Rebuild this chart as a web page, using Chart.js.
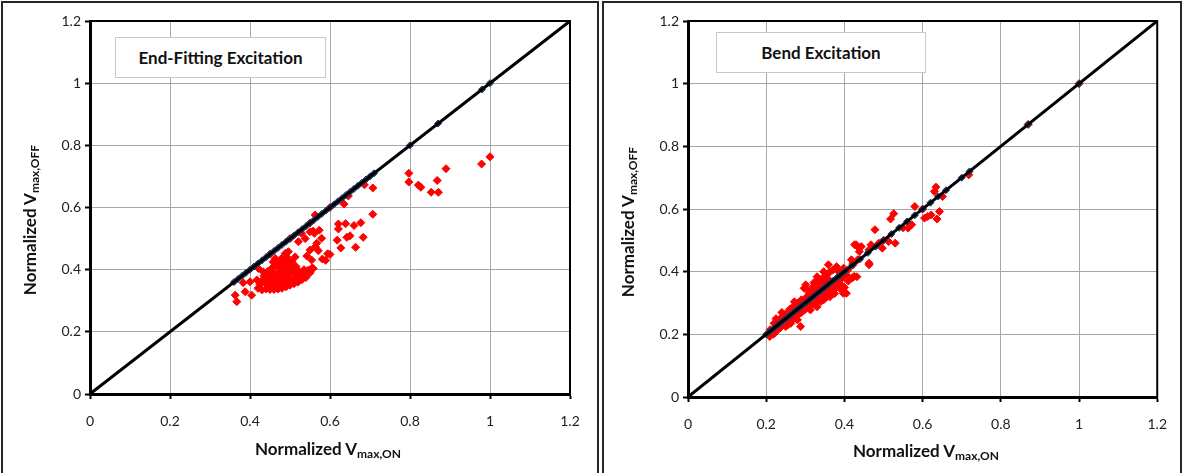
<!DOCTYPE html>
<html>
<head>
<meta charset="utf-8">
<script src="https://cdn.jsdelivr.net/npm/chart.js@4"></script>
<style>
body { margin: 0; width: 1183px; height: 473px; overflow: hidden; background: #fff; font-family: Lato, "Noto Sans", sans-serif; }
.frame { position: absolute; border: 2px solid #262626; box-sizing: border-box; }
.wrap { position: absolute; }
.box { position: absolute; border: 1px solid #c8c8c8; background: #fff; font-weight: bold; font-size: 17px; text-align: center; color: #111; box-sizing: border-box; }
.xt { position: absolute; width: 260px; font-weight: bold; font-size: 17px; text-align: center; color: #111; }
.yt { position: absolute; width: 260px; height: 24px; line-height: 24px; font-weight: bold; font-size: 17px; text-align: center; color: #111; transform: rotate(-90deg); }
sub { font-size: 12px; vertical-align: -3px; }
</style>
</head>
<body>
<div class="frame" style="left:1px;top:1px;width:598px;height:490px;"></div>
<div class="frame" style="left:602px;top:1px;width:580px;height:490px;"></div>

<div class="wrap" style="left:3px;top:3px;width:594px;height:470px;"><canvas id="endChart"></canvas></div>
<div class="wrap" style="left:604px;top:3px;width:577px;height:470px;"><canvas id="bendChart"></canvas></div>

<div class="box" style="left:115px;top:37px;width:211px;height:41px;line-height:39px;">End-Fitting Excitation</div>
<div class="box" style="left:716px;top:32px;width:210px;height:41px;line-height:39px;">Bend Excitation</div>

<div class="xt" style="left:198px;top:438px;">Normalized V<sub>max,ON</sub></div>
<div class="xt" style="left:796px;top:440px;">Normalized V<sub>max,ON</sub></div>
<div class="yt" style="left:-100px;top:208px;">Normalized V<sub>max,OFF</sub></div>
<div class="yt" style="left:498px;top:210px;">Normalized V<sub>max,OFF</sub></div>

<script>
// axis ticks shared by both panels
const tickVals = [0, 0.2, 0.4, 0.6, 0.8, 1, 1.2];
const lineX = [0, 1.2];

// End-fitting excitation: red points (ON, OFF)
const endOn = [
    1.0, 0.979, 0.89, 0.868, 0.871, 0.853, 0.827, 0.821, 0.797, 0.797,
    0.707, 0.686, 0.635, 0.646, 0.707, 0.677, 0.66, 0.639, 0.621, 0.621,
    0.683, 0.65, 0.642, 0.618, 0.664, 0.627, 0.6, 0.594, 0.589, 0.581,
    0.563, 0.573, 0.579, 0.567, 0.561, 0.55, 0.558, 0.571, 0.563, 0.55,
    0.542, 0.554, 0.529, 0.521, 0.538, 0.513, 0.5, 0.488, 0.496, 0.479,
    0.363, 0.367, 0.388, 0.404, 0.383, 0.4, 0.421, 0.463,
    0.417, 0.42, 0.425, 0.43, 0.43, 0.435, 0.44, 0.44, 0.44, 0.445,
    0.45, 0.45, 0.45, 0.45, 0.455, 0.46, 0.46, 0.46, 0.46, 0.46,
    0.465, 0.47, 0.47, 0.47, 0.47, 0.47, 0.475, 0.48, 0.48, 0.48,
    0.48, 0.48, 0.485, 0.49, 0.49, 0.49, 0.49, 0.495, 0.5, 0.5,
    0.5, 0.5, 0.505, 0.51, 0.51, 0.51, 0.515, 0.52, 0.52, 0.52,
    0.525, 0.53, 0.53, 0.535, 0.54, 0.54, 0.545, 0.55, 0.555, 0.558,
    0.433, 0.458, 0.492, 0.5, 0.55, 0.6, 0.45
];
const endOff = [
    0.763, 0.74, 0.725, 0.687, 0.649, 0.649, 0.665, 0.672, 0.71, 0.682,
    0.663, 0.673, 0.611, 0.637, 0.578, 0.551, 0.542, 0.548, 0.547, 0.531,
    0.504, 0.509, 0.504, 0.495, 0.472, 0.47, 0.449, 0.451, 0.43, 0.434,
    0.576, 0.527, 0.501, 0.485, 0.517, 0.522, 0.524, 0.461, 0.474, 0.463,
    0.444, 0.431, 0.517, 0.49, 0.5, 0.441, 0.425, 0.452, 0.458, 0.436,
    0.318, 0.297, 0.329, 0.318, 0.358, 0.361, 0.404, 0.436,
    0.367, 0.34, 0.352, 0.335, 0.365, 0.38, 0.338, 0.355, 0.372, 0.395,
    0.336, 0.35, 0.368, 0.385, 0.405, 0.336, 0.352, 0.37, 0.388, 0.41,
    0.42, 0.338, 0.355, 0.372, 0.39, 0.408, 0.425, 0.34, 0.358, 0.375,
    0.395, 0.415, 0.43, 0.345, 0.362, 0.38, 0.4, 0.42, 0.35, 0.368,
    0.388, 0.405, 0.425, 0.355, 0.372, 0.392, 0.41, 0.36, 0.378, 0.398,
    0.388, 0.368, 0.385, 0.4, 0.375, 0.392, 0.398, 0.39, 0.405, 0.404,
    0.393, 0.425, 0.441, 0.5, 0.55, 0.6, 0.45
];
// End-fitting: points lying on the diagonal (ON = OFF)
const endDiag = [
    0.36, 0.37, 0.38, 0.39, 0.4, 0.41, 0.42, 0.43, 0.44, 0.45,
    0.46, 0.47, 0.48, 0.49, 0.5, 0.51, 0.52, 0.53, 0.54, 0.55,
    0.56, 0.57, 0.58, 0.59, 0.6, 0.61, 0.62, 0.63, 0.64, 0.65,
    0.66, 0.67, 0.68, 0.69, 0.7, 0.71, 0.8, 0.87, 0.98, 1.0
];

// Bend excitation: red points (ON, OFF)
const bendOn = [
    0.21, 0.22, 0.23, 0.225, 0.24, 0.24, 0.25, 0.26, 0.27, 0.272,
    0.28, 0.29, 0.297, 0.301, 0.305, 0.31, 0.315, 0.32, 0.322, 0.33,
    0.33, 0.34, 0.345, 0.347, 0.355, 0.359, 0.363, 0.37, 0.38, 0.385,
    0.398, 0.409, 0.418, 0.422, 0.432,
    0.209, 0.213, 0.218, 0.222, 0.23, 0.235, 0.243, 0.25, 0.255, 0.26,
    0.263, 0.27, 0.28, 0.28, 0.288, 0.29, 0.295, 0.3, 0.305, 0.31,
    0.313, 0.32, 0.325, 0.33, 0.335, 0.34, 0.347, 0.35, 0.355, 0.363,
    0.365, 0.37, 0.375, 0.38, 0.388, 0.39, 0.397, 0.4, 0.405, 0.41,
    0.42, 0.425,
    0.255, 0.265, 0.275, 0.285, 0.295, 0.3, 0.31, 0.315, 0.325, 0.335,
    0.34, 0.345, 0.355, 0.36, 0.37, 0.375, 0.385, 0.39, 0.395, 0.405,
    0.3, 0.31, 0.32, 0.335, 0.35, 0.36, 0.285, 0.27, 0.33, 0.345,
    0.426, 0.43, 0.434, 0.443, 0.438, 0.434, 0.422, 0.463, 0.463, 0.468,
    0.463, 0.478, 0.488, 0.497, 0.513, 0.53, 0.518, 0.526, 0.563, 0.572,
    0.58, 0.605, 0.613, 0.622, 0.637, 0.643, 0.651, 0.63, 0.634, 0.718,
    0.87, 1.0, 0.5, 0.55, 0.6
];
const bendOff = [
    0.215, 0.235, 0.24, 0.25, 0.255, 0.27, 0.265, 0.28, 0.29, 0.304,
    0.3, 0.31, 0.347, 0.358, 0.342, 0.33, 0.34, 0.352, 0.365, 0.37,
    0.384, 0.36, 0.38, 0.4, 0.39, 0.422, 0.4, 0.405, 0.416, 0.4,
    0.411, 0.406, 0.438, 0.427, 0.384,
    0.193, 0.209, 0.2, 0.205, 0.215, 0.22, 0.23, 0.225, 0.23, 0.24,
    0.235, 0.25, 0.246, 0.26, 0.225, 0.27, 0.275, 0.28, 0.29, 0.285,
    0.278, 0.3, 0.295, 0.288, 0.31, 0.305, 0.31, 0.325, 0.32, 0.32,
    0.335, 0.34, 0.33, 0.35, 0.347, 0.36, 0.331, 0.35, 0.331, 0.37,
    0.38, 0.385,
    0.245, 0.255, 0.265, 0.275, 0.285, 0.29, 0.3, 0.305, 0.315, 0.32,
    0.33, 0.335, 0.34, 0.345, 0.355, 0.36, 0.37, 0.375, 0.38, 0.39,
    0.315, 0.325, 0.335, 0.35, 0.365, 0.375, 0.3, 0.28, 0.345, 0.36,
    0.486, 0.486, 0.48, 0.48, 0.464, 0.438, 0.422, 0.427, 0.47, 0.486,
    0.422, 0.534, 0.491, 0.475, 0.496, 0.491, 0.568, 0.585, 0.539, 0.55,
    0.608, 0.571, 0.576, 0.581, 0.568, 0.592, 0.64, 0.656, 0.67, 0.709,
    0.87, 1.0, 0.5, 0.54, 0.6
];
// Bend: points lying on the diagonal (ON = OFF)
const bendDiag = [
    0.2, 0.21, 0.22, 0.23, 0.24, 0.25, 0.26, 0.27, 0.28, 0.29,
    0.3, 0.31, 0.32, 0.33, 0.34, 0.35, 0.36, 0.37, 0.38, 0.39,
    0.4, 0.42, 0.44, 0.46, 0.48, 0.5, 0.52, 0.54, 0.56, 0.58,
    0.6, 0.62, 0.64, 0.66, 0.7, 0.72, 0.87, 1.0
];

const plotBorder = {
    id: 'plotBorder',
    afterDatasetsDraw(chart) {
        const { ctx, chartArea: a } = chart;
        ctx.save();
        ctx.strokeStyle = '#000';
        ctx.lineWidth = 2;
        ctx.strokeRect(a.left, a.top, a.right - a.left, a.bottom - a.top);
        ctx.restore();
    }
};

function makeScale(isX, size) {
    return {
        type: 'linear',
        min: 0,
        max: 1.2,
        afterBuildTicks: (s) => { s.ticks = tickVals.map(v => ({ value: v })); },
        afterFit: (s) => { if (isX) s.height = size; else s.width = size; },
        border: { color: '#000', width: 3 },
        grid: { color: '#a6a6a6', lineWidth: 1, tickLength: 5, tickColor: '#000', tickWidth: 2 },
        ticks: {
            color: '#222',
            padding: isX ? 14 : 4,
            font: { family: 'Lato, "Noto Sans", sans-serif', size: 14 },
            callback: (v) => String(Math.round(v * 10) / 10)
        }
    };
}

function makeChart(id, on, off, diag, yWidth, xHeight, padRight) {
    return new Chart(document.getElementById(id), {
        type: 'scatter',
        data: {
            datasets: [
                {
                    label: 'Diagonal',
                    data: lineX.map(v => ({ x: v, y: v })),
                    showLine: true,
                    borderColor: '#000',
                    borderWidth: 3,
                    pointRadius: 0,
                    order: 1
                },
                {
                    label: 'ON = OFF',
                    data: diag.map(v => ({ x: v, y: v })),
                    pointStyle: 'rectRot',
                    pointRadius: 3.5,
                    backgroundColor: '#1f3864',
                    borderColor: '#1f3864',
                    order: 2
                },
                {
                    label: 'Cases',
                    data: on.map((x, i) => ({ x: x, y: off[i] })),
                    pointStyle: 'rectRot',
                    pointRadius: 4,
                    backgroundColor: '#ff0000',
                    borderColor: '#ff0000',
                    borderWidth: 1,
                    order: 3
                }
            ]
        },
        options: {
            responsive: true,
            maintainAspectRatio: false,
            animation: false,
            layout: { padding: { top: 18, right: padRight, left: 0, bottom: 0 } },
            plugins: { legend: { display: false }, tooltip: { enabled: false } },
            scales: {
                x: makeScale(true, xHeight),
                y: makeScale(false, yWidth)
            }
        },
        plugins: [plotBorder]
    });
}

const endChart = makeChart('endChart', endOn, endOff, endDiag, 87, 79, 27);
const bendChart = makeChart('bendChart', bendOn, bendOff, bendDiag, 84, 76, 13);
</script>
</body>
</html>
